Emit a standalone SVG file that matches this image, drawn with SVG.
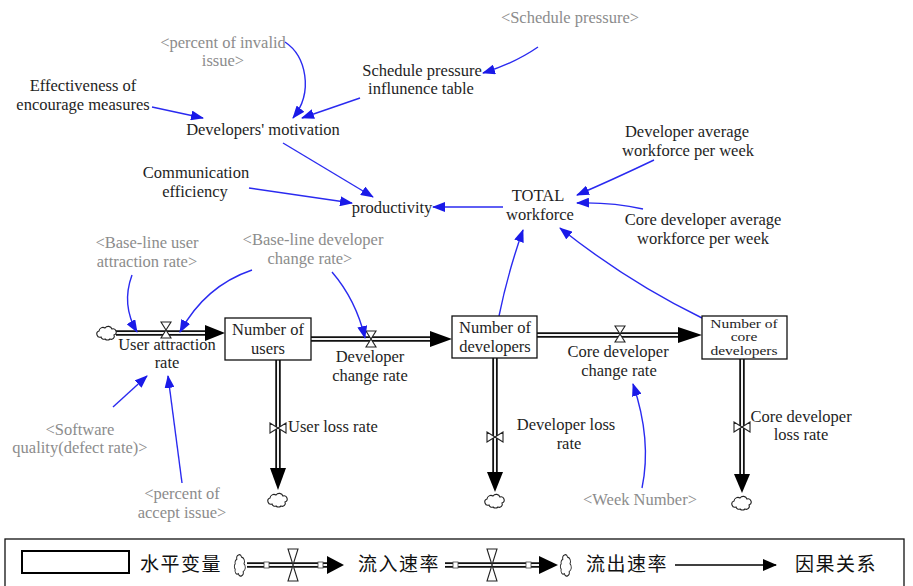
<svg xmlns="http://www.w3.org/2000/svg" xmlns:xlink="http://www.w3.org/1999/xlink" width="913" height="586" viewBox="0 0 913 586">
  <style>
    text { font-family: "Liberation Serif", "Times New Roman", serif; font-size: 16.5px; fill: #1e1e1e; }
    .c { text-anchor: middle; }
    .g { fill: #8c8c8c; }
    .tight { font-size: 15.5px; }
    .cjk { font-family: "Noto Sans CJK SC", sans-serif; font-size: 19px; letter-spacing: 1.5px; fill: #111; }
    .box { fill: #fff; stroke: #111; stroke-width: 1.3; }
    .po { stroke: #111; stroke-width: 5.5; fill: none; }
    .pi { stroke: #f4f4f4; stroke-width: 2; fill: none; }
    .head { fill: #000; }
    .link { fill: none; stroke: #2a2af0; stroke-width: 1.4; marker-end: url(#ba); }
    .cloud { fill: #fff; stroke: #222; stroke-width: 1.1; }
    .valve { fill: #fff; stroke: #222; stroke-width: 1.1; }
  </style>
  <defs>
    <marker id="ba" viewBox="0 0 13 10" refX="12" refY="5" markerWidth="13" markerHeight="10" markerUnits="userSpaceOnUse" orient="auto">
      <path d="M0,0 L13,5 L0,10 Z" fill="#1a1ae8"/>
    </marker>
    <marker id="bk" viewBox="0 0 14 12" refX="13" refY="6" markerWidth="14" markerHeight="12" markerUnits="userSpaceOnUse" orient="auto">
      <path d="M0,0 L14,6 L0,12 Z" fill="#000"/>
    </marker>
    <!-- cloud (source / sink) -->
    <path id="cloud" class="cloud" d="M-6,4 a3,3 0 0 1 -2,-6 a4,4 0 0 1 6,-3 a4,4 0 0 1 7,1 a3,3 0 0 1 2,6 a3,3 0 0 1 -4,4 a3.5,3.5 0 0 1 -5,0 a3,3 0 0 1 -4,-2 z"/>
    <!-- valve on a horizontal pipe -->
    <path id="vh" class="valve" d="M-5,-8 L5,-8 L0,0 Z M-5,8 L5,8 L0,0 Z"/>
    <!-- valve on a vertical pipe -->
    <path id="vv" class="valve" d="M-8,-5 L-8,5 L0,0 Z M8,-5 L8,5 L0,0 Z"/>
  </defs>

  <rect width="913" height="586" fill="#fff"/>

  <!-- flows (pipes) -->
  <g id="flows">
    <path class="po" d="M116,333 H207"/><path class="pi" d="M116,333 H207"/>
    <polygon class="head" points="205,325 225,333 205,341"/>
    <path class="po" d="M311,339 H432"/><path class="pi" d="M311,339 H432"/>
    <polygon class="head" points="430,331 452,339 430,347"/>
    <path class="po" d="M537,335 H680"/><path class="pi" d="M537,335 H680"/>
    <polygon class="head" points="678,327 702,335 678,343"/>
    <path class="po" d="M278,360 V470"/><path class="pi" d="M278,360 V470"/>
    <polygon class="head" points="270,468 278,490 286,468"/>
    <path class="po" d="M495,358 V474"/><path class="pi" d="M495,358 V474"/>
    <polygon class="head" points="487,472 495,492 503,472"/>
    <path class="po" d="M742,359 V476"/><path class="pi" d="M742,359 V476"/>
    <polygon class="head" points="734,474 742,493 750,474"/>
    <use xlink:href="#cloud" x="107" y="333"/>
    <use xlink:href="#cloud" x="278" y="500"/>
    <use xlink:href="#cloud" x="495" y="501"/>
    <use xlink:href="#cloud" x="742" y="503"/>
    <use xlink:href="#vh" x="166" y="330"/>
    <use xlink:href="#vh" x="371" y="339"/>
    <use xlink:href="#vh" x="620" y="334"/>
    <use xlink:href="#vv" x="278" y="428"/>
    <use xlink:href="#vv" x="495" y="437"/>
    <use xlink:href="#vv" x="742" y="427"/>
  </g>

  <!-- causal links -->
  <g id="links">
    <path class="link" d="M285,42 C306,56 314,92 293,118"/>
    <path class="link" d="M360,98 L302,118"/>
    <path class="link" d="M538,47 Q515,63 483,73"/>
    <path class="link" d="M152,107 L203,118"/>
    <path class="link" d="M283,143 L373,197"/>
    <path class="link" d="M249,188 L352,203"/>
    <path class="link" d="M503,207 L433,207"/>
    <path class="link" d="M654,160 Q612,180 577,195"/>
    <path class="link" d="M643,209 Q612,202 577,203"/>
    <path class="link" d="M499,316 Q508,272 523,230"/>
    <path class="link" d="M702,318 Q628,282 560,228"/>
    <path class="link" d="M132,275 Q121,305 137,332"/>
    <path class="link" d="M252,270 Q205,286 180,332"/>
    <path class="link" d="M332,272 Q356,300 365,338"/>
    <path class="link" d="M113,407 L147,376"/>
    <path class="link" d="M182,483 L168,376"/>
    <path class="link" d="M642,488 Q652,440 633,384"/>
  </g>

  <!-- stocks -->
  <g id="users">
    <rect class="box" x="225" y="318" width="86" height="42"/>
    <text class="c" x="268" y="335">Number of</text>
    <text class="c" x="268" y="354">users</text>
  </g>
  <g id="developers">
    <rect class="box" x="452" y="316" width="85" height="42"/>
    <text class="c" x="495" y="333">Number of</text>
    <text class="c" x="495" y="352">developers</text>
  </g>
  <g id="core-developers">
    <rect class="box" x="702" y="316" width="85" height="43"/>
    <!-- three lines squeezed vertically to fit the box -->
    <text class="c tight" transform="translate(744,327.5) scale(1,0.75)">Number of</text>
    <text class="c tight" transform="translate(744,341) scale(1,0.75)">core</text>
    <text class="c tight" transform="translate(744,354.5) scale(1,0.75)">developers</text>
  </g>

  <!-- rates -->
  <g id="user-attraction-rate">
    <text class="c" x="167" y="350">User attraction</text>
    <text class="c" x="167" y="368">rate</text>
  </g>
  <g id="developer-change-rate">
    <text class="c" x="370" y="362">Developer</text>
    <text class="c" x="370" y="381">change rate</text>
  </g>
  <g id="core-developer-change-rate">
    <text class="c" x="618" y="357">Core developer</text>
    <text class="c" x="619" y="376">change rate</text>
  </g>
  <g id="user-loss-rate">
    <text x="288" y="432">User loss rate</text>
  </g>
  <g id="developer-loss-rate">
    <text class="c" x="566" y="430">Developer loss</text>
    <text class="c" x="569" y="449">rate</text>
  </g>
  <g id="core-developer-loss-rate">
    <text class="c" x="801" y="422">Core developer</text>
    <text class="c" x="801" y="440">loss rate</text>
  </g>

  <!-- auxiliaries -->
  <g id="schedule-pressure-shadow"><text class="c g" x="570" y="23">&lt;Schedule pressure&gt;</text></g>
  <g id="percent-invalid-shadow">
    <text class="c g" x="223" y="48">&lt;percent of invalid</text>
    <text class="c g" x="223" y="66">issue&gt;</text>
  </g>
  <g id="schedule-pressure-table">
    <text class="c" x="422" y="76">Schedule pressure</text>
    <text class="c" x="421" y="94">influnence table</text>
  </g>
  <g id="encourage-effectiveness">
    <text class="c" x="83" y="91">Effectiveness of</text>
    <text class="c" x="83" y="110">encourage measures</text>
  </g>
  <g id="motivation"><text class="c" x="263" y="135">Developers' motivation</text></g>
  <g id="communication">
    <text class="c" x="196" y="178">Communication</text>
    <text class="c" x="195" y="197">efficiency</text>
  </g>
  <g id="productivity"><text class="c" x="392" y="213">productivity</text></g>
  <g id="total-workforce">
    <text class="c" x="538" y="201">TOTAL</text>
    <text class="c" x="540" y="220">workforce</text>
  </g>
  <g id="dev-avg-workforce">
    <text class="c" x="687" y="137">Developer average</text>
    <text class="c" x="688" y="156">workforce per week</text>
  </g>
  <g id="core-avg-workforce">
    <text class="c" x="703" y="225">Core developer average</text>
    <text class="c" x="703" y="244">workforce per week</text>
  </g>
  <g id="baseline-user-shadow">
    <text class="c g" x="147" y="248">&lt;Base-line user</text>
    <text class="c g" x="147" y="267">attraction rate&gt;</text>
  </g>
  <g id="baseline-dev-shadow">
    <text class="c g" x="313" y="245">&lt;Base-line developer</text>
    <text class="c g" x="310" y="264">change rate&gt;</text>
  </g>
  <g id="software-quality-shadow">
    <text class="c g" x="80" y="435">&lt;Software</text>
    <text class="c g" x="80" y="453">quality(defect rate)&gt;</text>
  </g>
  <g id="percent-accept-shadow">
    <text class="c g" x="182" y="499">&lt;percent of</text>
    <text class="c g" x="182" y="518">accept issue&gt;</text>
  </g>
  <g id="week-number-shadow"><text class="c g" x="640" y="505">&lt;Week Number&gt;</text></g>

  <!-- legend -->
  <g id="legend">
    <rect x="5" y="539" width="899" height="52" fill="#fff" stroke="#111" stroke-width="1.3"/>
    <rect x="22" y="551" width="107" height="22" fill="#fff" stroke="#000" stroke-width="2"/>
    <text class="cjk" x="140" y="571">水平变量</text>
    <use xlink:href="#cloud" transform="translate(240,566) rotate(90) scale(1.1,0.8)"/>
    <path class="po" d="M247,565 H330"/><path class="pi" d="M247,565 H330"/>
    <rect x="264" y="562" width="5" height="6" fill="#fff" stroke="#444" stroke-width="0.8"/>
    <rect x="318" y="562" width="5" height="6" fill="#fff" stroke="#444" stroke-width="0.8"/>
    <path class="valve" d="M288,549 L298,549 L293,565 Z M288,581 L298,581 L293,565 Z"/>
    <polygon class="head" points="327,556 344,565 327,574"/>
    <text class="cjk" x="358" y="571">流入速率</text>
    <path class="po" d="M445,565 H540"/><path class="pi" d="M445,565 H540"/>
    <rect x="453" y="562" width="5" height="6" fill="#fff" stroke="#444" stroke-width="0.8"/>
    <rect x="526" y="562" width="5" height="6" fill="#fff" stroke="#444" stroke-width="0.8"/>
    <path class="valve" d="M487,549 L497,549 L492,565 Z M487,581 L497,581 L492,565 Z"/>
    <polygon class="head" points="539,556 558,565 539,574"/>
    <use xlink:href="#cloud" transform="translate(566,566) rotate(90) scale(1.1,0.8)"/>
    <text class="cjk" x="586" y="571">流出速率</text>
    <path d="M675,565 H776" stroke="#000" stroke-width="1.6" fill="none" marker-end="url(#bk)"/>
    <text class="cjk" x="795" y="571">因果关系</text>
  </g>
</svg>
